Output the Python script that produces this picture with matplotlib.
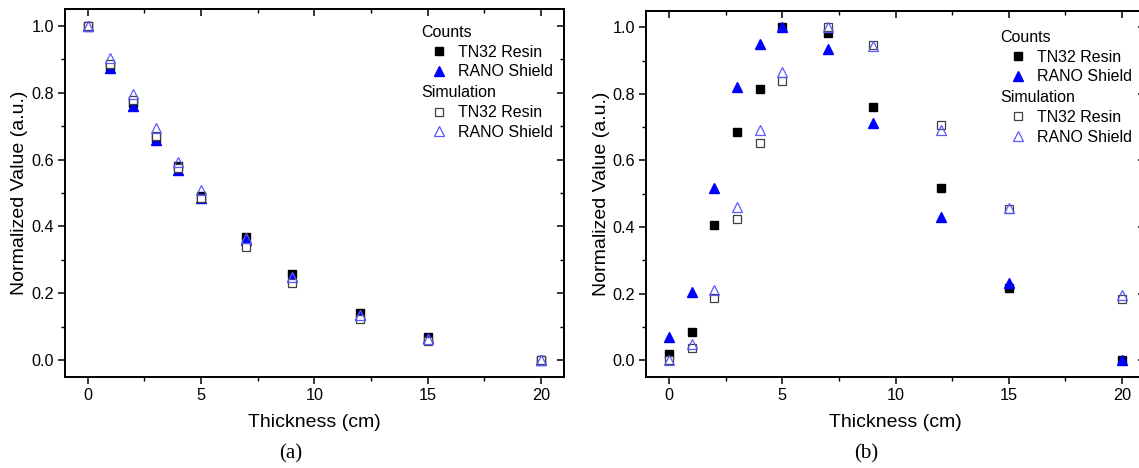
import matplotlib
matplotlib.use('Agg')
import matplotlib.pyplot as plt
from matplotlib.ticker import MultipleLocator
from matplotlib.lines import Line2D

plt.rcParams['font.family'] = ['Liberation Sans', 'DejaVu Sans']

thickness = [0, 1, 2, 3, 4, 5, 7, 9, 12, 15, 20]

# (a)
a_counts_tn32 = [1.0, 0.88, 0.77, 0.665, 0.58, 0.49, 0.368, 0.257, 0.14, 0.07, 0.0]
a_counts_rano = [1.0, 0.873, 0.761, 0.66, 0.57, 0.485, 0.36, 0.25, 0.135, 0.065, 0.0]
a_sim_tn32 = [1.0, 0.885, 0.778, 0.672, 0.574, 0.486, 0.337, 0.23, 0.122, 0.058, 0.0]
a_sim_rano = [1.0, 0.903, 0.798, 0.694, 0.594, 0.509, 0.364, 0.249, 0.135, 0.062, 0.0]

# (b)
b_counts_tn32 = [0.018, 0.085, 0.406, 0.685, 0.814, 1.0, 0.984, 0.762, 0.518, 0.218, 0.0]
b_counts_rano = [0.07, 0.204, 0.518, 0.822, 0.949, 1.0, 0.935, 0.713, 0.431, 0.232, 0.0]
b_sim_tn32 = [0.0, 0.037, 0.187, 0.423, 0.654, 0.839, 1.0, 0.947, 0.706, 0.453, 0.185]
b_sim_rano = [0.0, 0.047, 0.212, 0.461, 0.691, 0.865, 1.0, 0.945, 0.693, 0.456, 0.195]

BLUE = '#0000ff'
LBLUE = '#5a5aff'
GRAY = '#404040'

fig = plt.figure(figsize=(11.39, 4.68), dpi=100)
ax_a = fig.add_axes([0.057, 0.195, 0.438, 0.785])
ax_b = fig.add_axes([0.5675, 0.195, 0.4375, 0.782])


def draw(ax, ct, cr, st, sr, leg_x, leg_y):
    ax.plot(thickness, ct, 's', ms=6.3, color='black', ls='none')
    ax.plot(thickness, cr, '^', ms=7.8, color=BLUE, ls='none')
    ax.plot(thickness, st, 's', ms=6.3, mfc='white', mec=GRAY, mew=0.9, ls='none')
    ax.plot(thickness, sr, '^', ms=7.8, mfc='none', mec=LBLUE, mew=0.9, ls='none')

    ax.set_xlim(-1, 21)
    ax.set_ylim(-0.05, 1.05)
    ax.xaxis.set_major_locator(MultipleLocator(5))
    ax.xaxis.set_minor_locator(MultipleLocator(2.5))
    ax.yaxis.set_major_locator(MultipleLocator(0.2))
    ax.yaxis.set_minor_locator(MultipleLocator(0.1))
    ax.yaxis.set_major_formatter(plt.FormatStrFormatter('%.1f'))
    ax.tick_params(which='major', direction='out', length=5, width=1.1, labelsize=11.7, pad=3)
    ax.tick_params(which='minor', direction='out', length=3, width=1.0)
    for s in ax.spines.values():
        s.set_linewidth(1.4)

    top = ax.secondary_xaxis('top')
    top.xaxis.set_major_locator(MultipleLocator(5))
    top.xaxis.set_minor_locator(MultipleLocator(2.5))
    top.tick_params(which='major', direction='in', length=5, width=1.1, labeltop=False)
    top.tick_params(which='minor', direction='in', length=3, width=1.0)
    right = ax.secondary_yaxis('right')
    right.yaxis.set_major_locator(MultipleLocator(0.2))
    right.yaxis.set_minor_locator(MultipleLocator(0.1))
    right.tick_params(which='major', direction='in', length=5, width=1.1, labelright=False)
    right.tick_params(which='minor', direction='in', length=3, width=1.0)
    for sa in (top, right):
        for s in sa.spines.values():
            s.set_linewidth(1.4)

    ax.set_xlabel('Thickness (cm)', fontsize=14, labelpad=8)
    ax.set_ylabel('Normalized Value (a.u.)', fontsize=14, labelpad=2)

    kw = dict(frameon=False, fontsize=11.5, title_fontsize=11.5, alignment='left',
              handlelength=2.2, handletextpad=0.1, labelspacing=0.3,
              borderpad=0, borderaxespad=0, loc='upper left')
    h1 = [Line2D([], [], marker='s', ms=6, color='black', ls='none'),
          Line2D([], [], marker='^', ms=7.5, color=BLUE, ls='none')]
    h2 = [Line2D([], [], marker='s', ms=6, mfc='white', mec=GRAY, mew=0.9, ls='none'),
          Line2D([], [], marker='^', ms=7.5, mfc='none', mec=LBLUE, mew=0.9, ls='none')]
    leg1 = ax.legend(h1, ['TN32 Resin', 'RANO Shield'], title='Counts',
                     bbox_to_anchor=(leg_x, leg_y), **kw)
    ax.add_artist(leg1)
    ax.legend(h2, ['TN32 Resin', 'RANO Shield'], title='Simulation',
              bbox_to_anchor=(leg_x, leg_y - 0.165), **kw)


draw(ax_a, a_counts_tn32, a_counts_rano, a_sim_tn32, a_sim_rano, 0.715, 0.958)
draw(ax_b, b_counts_tn32, b_counts_rano, b_sim_tn32, b_sim_rano, 0.71, 0.948)

fig.text(0.2555, 0.03, '(a)', family='Liberation Serif', fontsize=15, ha='center', va='center')
fig.text(0.7605, 0.03, '(b)', family='Liberation Serif', fontsize=15, ha='center', va='center')

fig.savefig('out.png', dpi=100)
